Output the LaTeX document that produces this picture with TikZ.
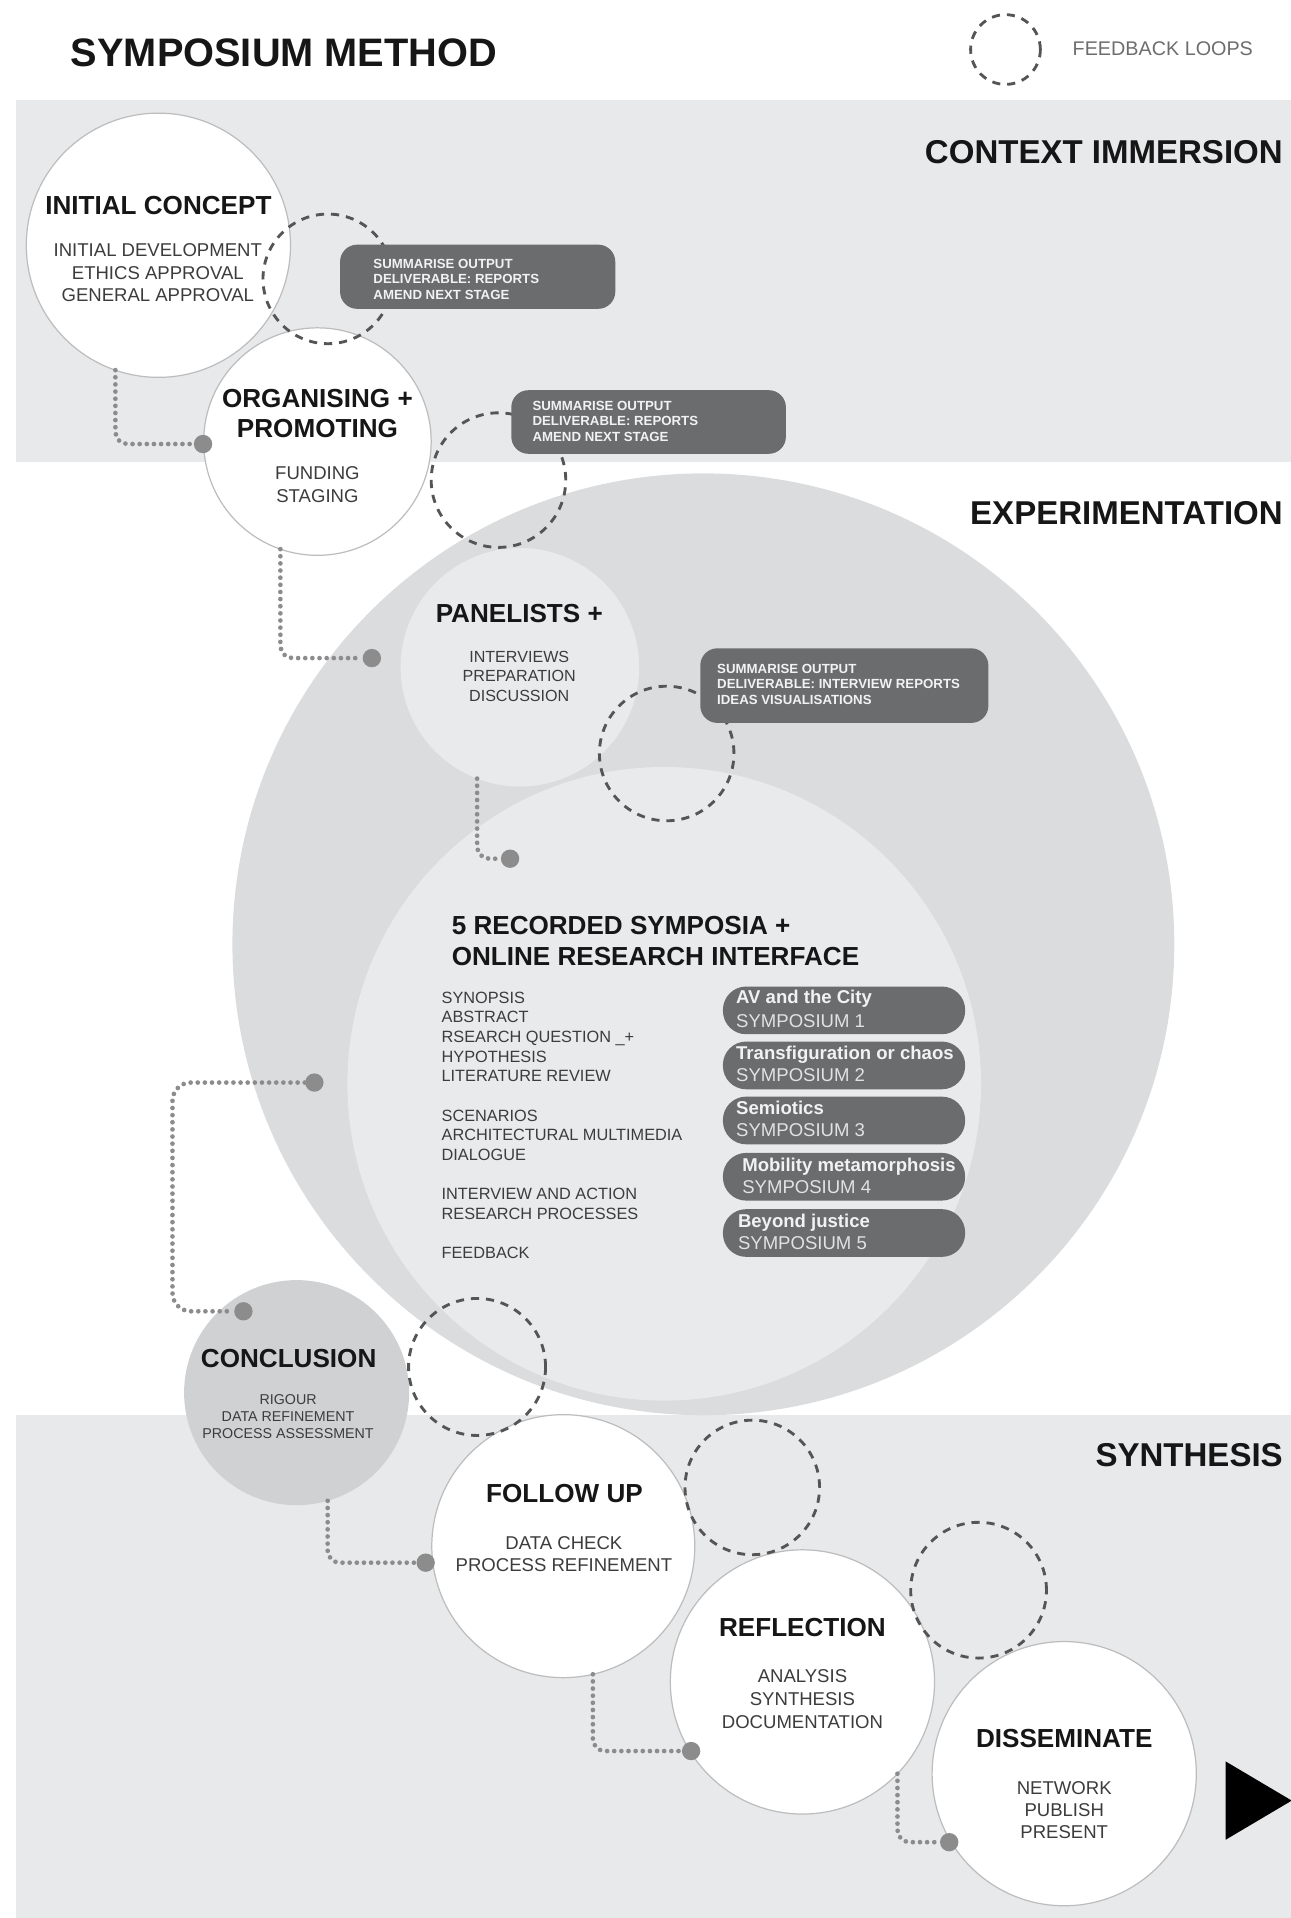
\documentclass[tikz,border=0pt]{standalone}
\usepackage{fontspec}
\setmainfont{Liberation Sans}
\definecolor{bandc}{HTML}{E8E9EB}
\definecolor{outerc}{HTML}{DBDCDE}
\definecolor{innerc}{HTML}{E9EAEC}
\definecolor{conclc}{HTML}{D0D1D3}
\definecolor{darkc}{HTML}{6B6C6E}
\definecolor{loopc}{HTML}{555555}
\definecolor{connc}{HTML}{8C8C8C}
\definecolor{headc}{HTML}{161616}
\definecolor{subc}{HTML}{3C3C3C}
\definecolor{bordc}{HTML}{BDBDBD}
\definecolor{lightt}{HTML}{F2F2F2}
\definecolor{symc}{HTML}{E2E2E2}
\tikzset{
  circ/.style={circle, inner sep=0pt, outer sep=0pt, minimum size=#1*1.2pt},
  whitecirc/.style={circ=#1, fill=white, draw=bordc, line width=0.6pt},
  loopcirc/.style={circ=#1, draw=loopc, line width=1.4pt, dash pattern=on 4pt off 3.4pt},
  darkbox/.style={rectangle, fill=darkc, rounded corners=8.4pt, inner sep=0pt},
  pill/.style={rectangle, fill=darkc, rounded corners=11.4pt, inner sep=0pt,
               minimum width=198*0.6pt, minimum height=39*0.6pt},
  conn/.style={draw=connc, line width=2.3pt, line cap=round, dash pattern=on 0pt off 3.5pt, rounded corners=6pt},
  enddot/.style={circle, fill=connc, inner sep=0pt, minimum size=9pt},
  headtxt/.style={font=\bfseries\fontsize{12.8}{14.7}\selectfont, text=headc, inner sep=0pt, anchor=base},
  subtxt/.style={font=\fontsize{9.1}{11}\selectfont, text=subc, inner sep=0pt, align=center, anchor=center},
  sectxt/.style={font=\bfseries\fontsize{16.2}{19}\selectfont, text=headc, inner sep=0pt, anchor=base east},
  boxtxt/.style={font=\bfseries\fontsize{6.5}{7.7}\selectfont, text=lightt, inner sep=0pt, align=left, anchor=north west},
  symtitle/.style={font=\bfseries\fontsize{9.1}{11}\selectfont, text=lightt, inner sep=0pt, anchor=base west},
  symsub/.style={font=\fontsize{9.1}{11}\selectfont, text=symc, inner sep=0pt, anchor=base west},
}
\begin{document}
\begin{tikzpicture}[x=0.6pt,y=-0.6pt]
\useasboundingbox (0,0) rectangle (1055,1568);
% bands
\fill[bandc] (13,82) rectangle (1055,378);
\fill[bandc] (13,1156.5) rectangle (1055,1568);
% large circles
\node[circ=385, fill=outerc] (outer) at (575,772) {};
\node[circ=259, fill=innerc] (inner) at (543,886) {};
\node[circ=97.5, fill=innerc] (pn) at (425,545.5) {};
\node[whitecirc=108] (ic) at (129.5,200.5) {};
\node[whitecirc=93] (og) at (259.5,361) {};
\node[circ=92, fill=conclc] (cc) at (242.5,1138.5) {};
\node[whitecirc=107.5] (fu) at (460.5,1264) {};
\node[whitecirc=108] (rf) at (656,1375) {};
\node[whitecirc=108] (ds) at (870,1450) {};
% end dots
\node[enddot] (d1) at (166,363) {};
\node[enddot] (d2) at (304,538) {};
\node[enddot] (d3) at (417,702) {};
\node[enddot] (d4) at (257,885) {};
\node[enddot] (d5) at (199,1072) {};
\node[enddot] (d6) at (348,1277.5) {};
\node[enddot] (d7) at (565,1431.5) {};
\node[enddot] (d8) at (776,1506) {};
\coordinate (c4) at (141,980);
% connectors
\draw[conn] (ic.-109) |- (d1);
\draw[conn] (og.-109) |- (d2);
\draw[conn] (pn.-111) |- (d3);
\draw[conn, rounded corners=9pt] (d4) -| (c4) |- (d5);
\draw[conn] (cc.-74) |- (d6);
\draw[conn] (fu.-77) |- (d7);
\draw[conn] (rf.-44) |- (d8);
% feedback loops
\node[loopcirc=28.5] (lg) at (822,40.5) {};
\node[loopcirc=53] (l1) at (268,228) {};
\node[loopcirc=55] (l2) at (407.5,392.5) {};
\node[loopcirc=55] (l3) at (545,616) {};
\node[loopcirc=56] (l4) at (390,1117.5) {};
\node[loopcirc=55] (l5) at (615,1216) {};
\node[loopcirc=55.5] (l6) at (800,1300) {};
% dark boxes
\node[darkbox, minimum width=225*0.6pt, minimum height=52.5*0.6pt] (b1) at (390.5,226.25) {};
\node[darkbox, minimum width=224.5*0.6pt, minimum height=52*0.6pt] (b2) at (530.25,345) {};
\node[darkbox, minimum width=235.5*0.6pt, minimum height=61*0.6pt] (b3) at (690.25,560.5) {};
\node[boxtxt] (b1t) at (305,211.3) {SUMMARISE OUTPUT\\DELIVERABLE: REPORTS\\AMEND NEXT STAGE};
\node[boxtxt] (b2t) at (435,327.3) {SUMMARISE OUTPUT\\DELIVERABLE: REPORTS\\AMEND NEXT STAGE};
\node[boxtxt] (b3t) at (586,542.3) {SUMMARISE OUTPUT\\DELIVERABLE: INTERVIEW REPORTS\\IDEAS VISUALISATIONS};
% symposium pills
\node[pill] (p1) at (690,826) {};
\node[pill] (p2) at (690,871) {};
\node[pill] (p3) at (690,916) {};
\node[pill] (p4) at (690,962) {};
\node[pill] (p5) at (690,1008) {};
\node[symtitle] (p1a) at (601.5,820.5) {AV and the City};
\node[symsub] (p1b) at (601.5,840) {SYMPOSIUM 1};
\node[symtitle] (p2a) at (601.5,866) {Transfiguration or chaos};
\node[symsub] (p2b) at (601.5,884.5) {SYMPOSIUM 2};
\node[symtitle] (p3a) at (601.5,911) {Semiotics};
\node[symsub] (p3b) at (601.5,929.5) {SYMPOSIUM 3};
\node[symtitle] (p4a) at (606.5,957.5) {Mobility metamorphosis};
\node[symsub] (p4b) at (606.5,976) {SYMPOSIUM 4};
\node[symtitle] (p5a) at (603,1003.8) {Beyond justice};
\node[symsub] (p5b) at (603,1021.5) {SYMPOSIUM 5};
% black arrow
\fill[black] (1002,1440) -- (1056,1472) -- (1002,1504) -- cycle;
% titles
\node[anchor=base west, inner sep=0pt, font=\bfseries\fontsize{19.5}{23}\selectfont, text=headc] (title) at (57.6,54) {SYMPOSIUM METHOD};
\node[anchor=base west, inner sep=0pt, font=\fontsize{9.7}{11}\selectfont, text=subc!75!white] (lgt) at (876.6,45) {FEEDBACK LOOPS};
\node[sectxt] (s1) at (1049,134) {CONTEXT IMMERSION};
\node[sectxt] (s2) at (1049,429) {EXPERIMENTATION};
\node[sectxt] (s3) at (1049,1198.7) {SYNTHESIS};
% circle headings
\node[headtxt] (h1) at (129.5,175) {INITIAL CONCEPT};
\node[headtxt] (h2a) at (259.5,333) {ORGANISING +};
\node[headtxt] (h2b) at (259.5,357.5) {PROMOTING};
\node[headtxt] (h3) at (424.5,509) {PANELISTS +};
\node[headtxt, anchor=base west] (h4a) at (369,764) {5 RECORDED SYMPOSIA +};
\node[headtxt, anchor=base west] (h4b) at (369,789.4) {ONLINE RESEARCH INTERFACE};
\node[headtxt] (h5) at (236,1118) {CONCLUSION};
\node[headtxt] (h6) at (461.5,1228.5) {FOLLOW UP};
\node[headtxt] (h7) at (656,1337.5) {REFLECTION};
\node[headtxt] (h8) at (870,1428.5) {DISSEMINATE};
% sub texts
\node[subtxt] (t1) at (129,222.9) {INITIAL DEVELOPMENT\\ETHICS APPROVAL\\GENERAL APPROVAL};
\node[subtxt, font=\fontsize{9.1}{11.1}\selectfont] (t2) at (259.5,396.3) {FUNDING\\STAGING};
\node[subtxt, font=\fontsize{7.9}{9.4}\selectfont] (t3) at (424.5,553) {INTERVIEWS\\PREPARATION\\DISCUSSION};
\node[subtxt, font=\fontsize{8}{9.65}\selectfont, align=left, anchor=north west] (t4) at (360.7,810.5) {SYNOPSIS\\ABSTRACT\\RSEARCH QUESTION \_+\\HYPOTHESIS\\LITERATURE REVIEW\\[9.65pt]SCENARIOS\\ARCHITECTURAL MULTIMEDIA\\DIALOGUE\\[9.65pt]INTERVIEW AND ACTION\\RESEARCH PROCESSES\\[9.65pt]FEEDBACK};
\node[subtxt, font=\fontsize{7}{8.2}\selectfont] (t5) at (235.5,1158.1) {RIGOUR\\DATA REFINEMENT\\PROCESS ASSESSMENT};
\node[subtxt, font=\fontsize{9.1}{10.8}\selectfont] (t6) at (461,1270.6) {DATA CHECK\\PROCESS REFINEMENT};
\node[subtxt, font=\fontsize{9.1}{11.2}\selectfont] (t7) at (656,1388.9) {ANALYSIS\\SYNTHESIS\\DOCUMENTATION};
\node[subtxt, font=\fontsize{9.1}{10.8}\selectfont] (t8) at (870,1479.5) {NETWORK\\PUBLISH\\PRESENT};
\end{tikzpicture}
\end{document}
